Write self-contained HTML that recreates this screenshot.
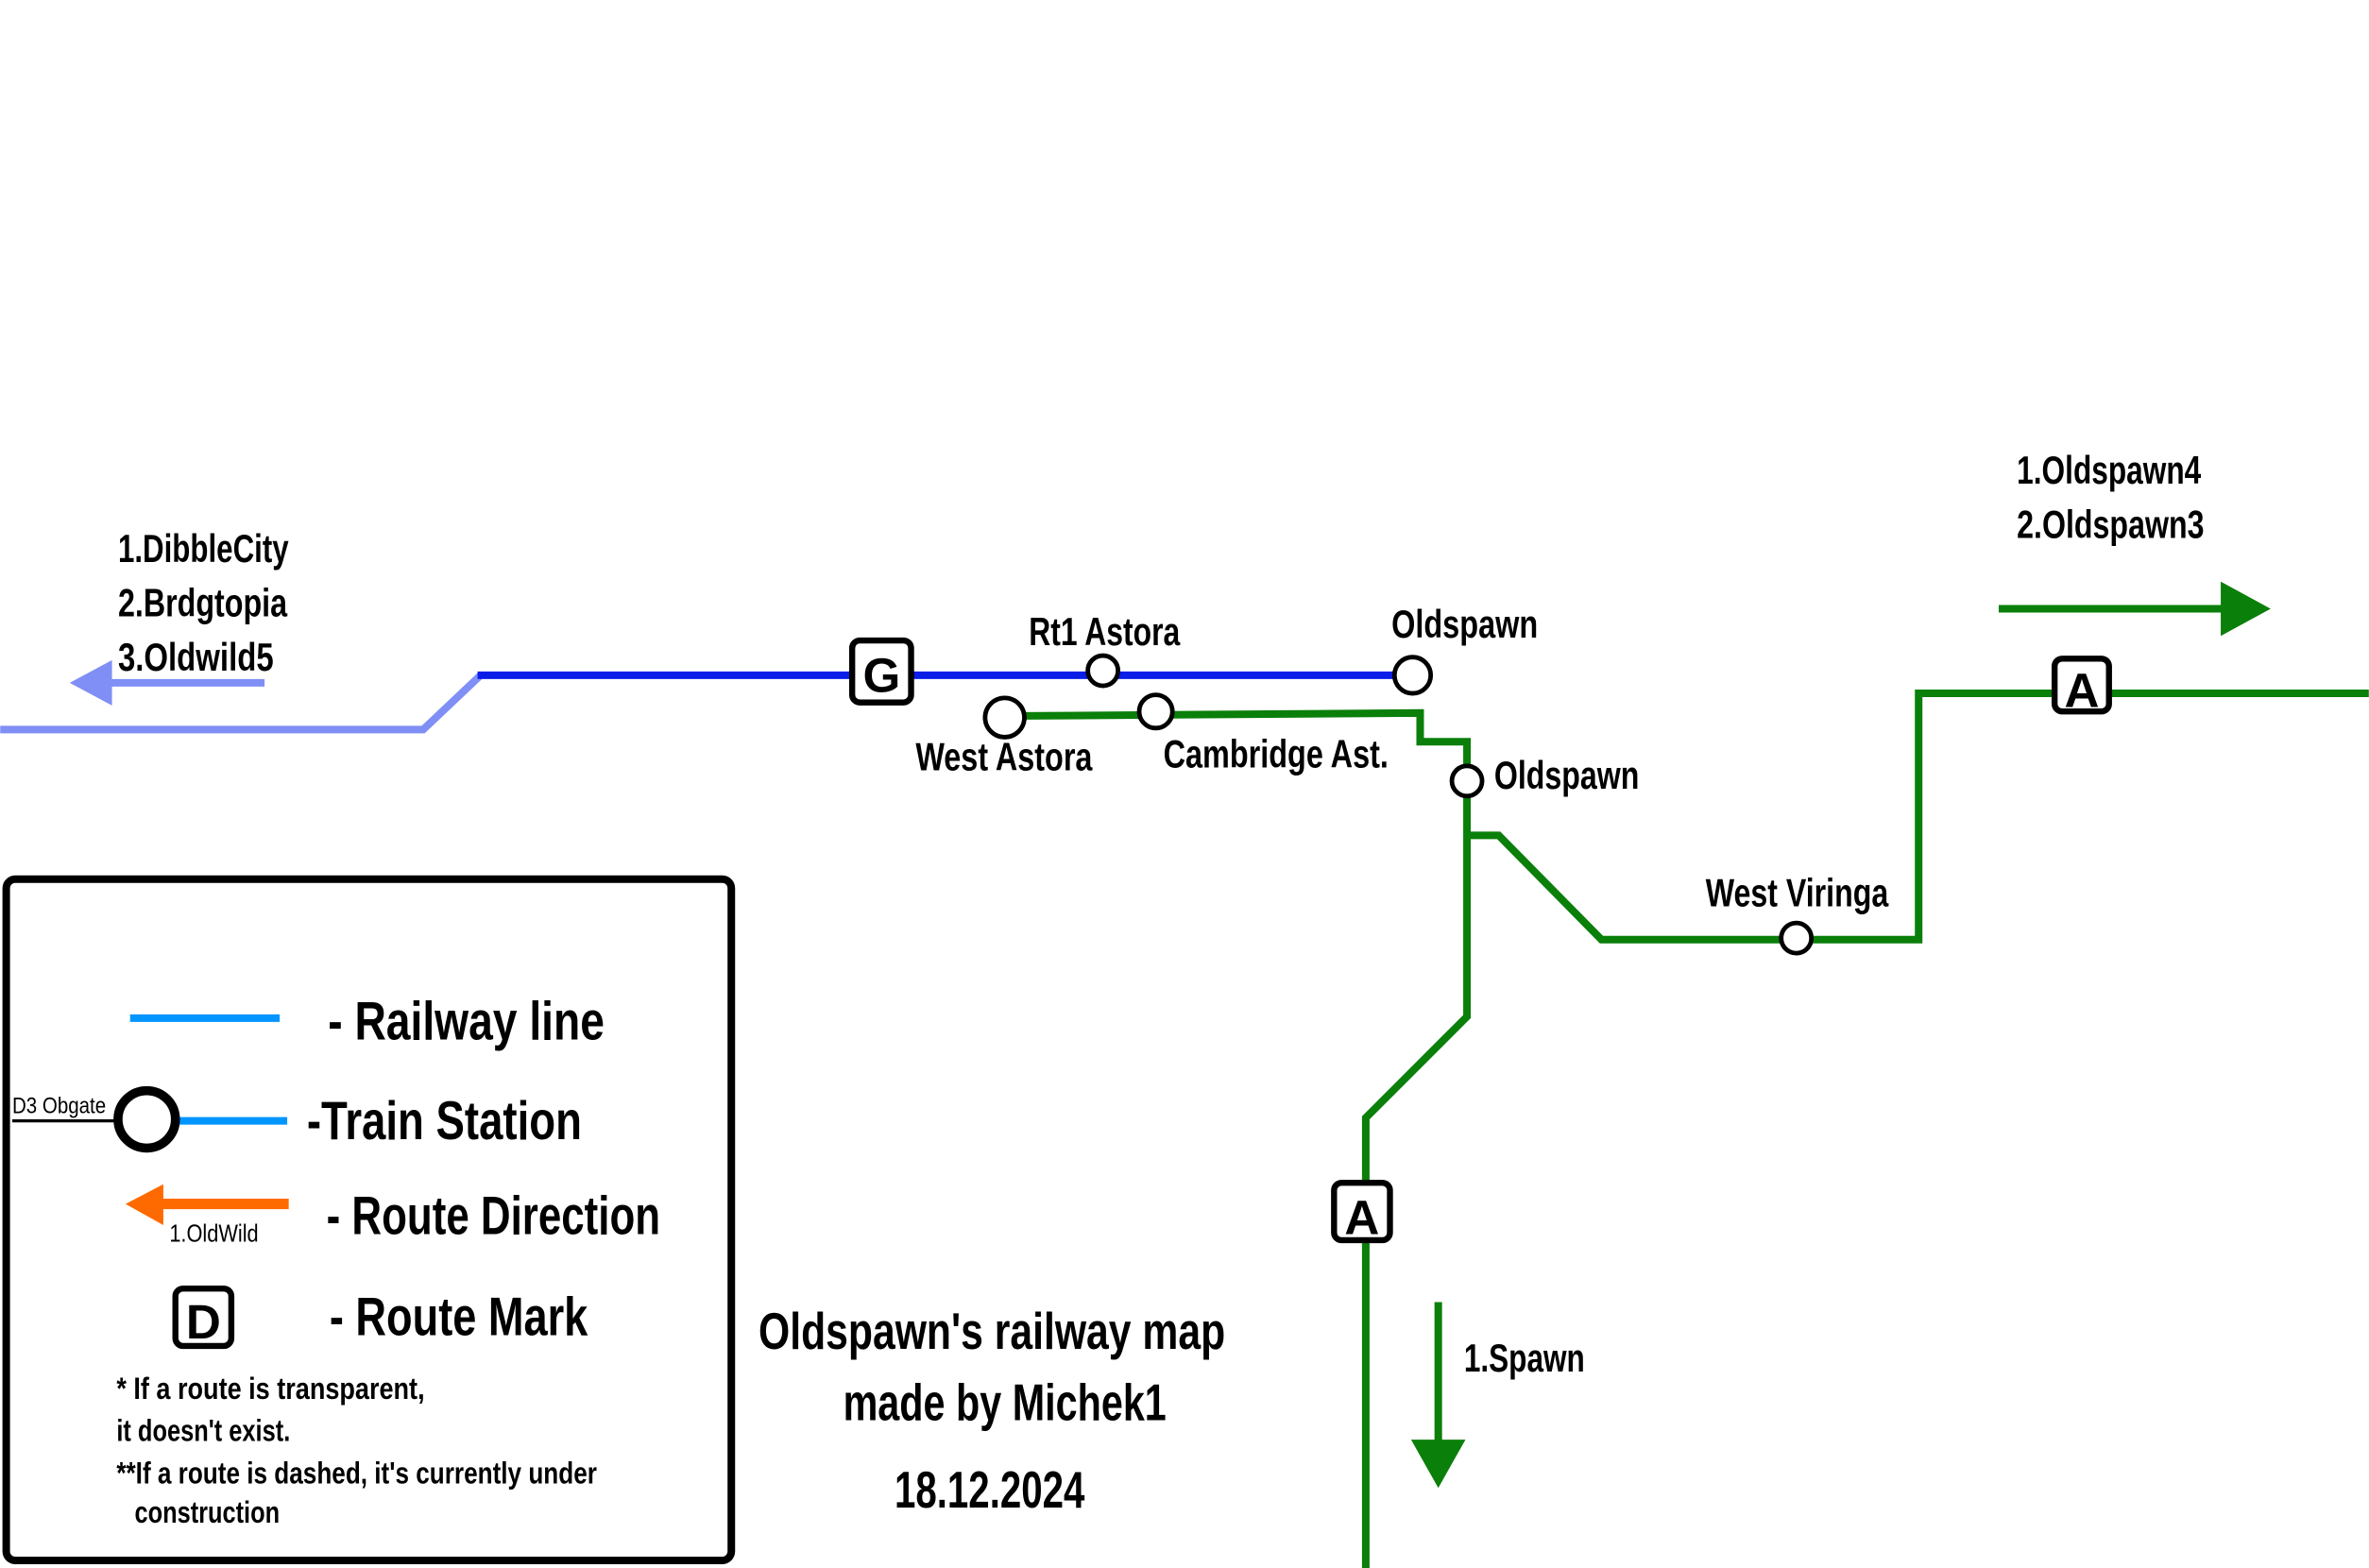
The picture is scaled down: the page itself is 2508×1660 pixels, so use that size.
<!DOCTYPE html>
<html><head><meta charset="utf-8"><style>
html,body{margin:0;padding:0;background:#fff;}
svg{display:block;}
text{font-family:"Liberation Sans Narrow","Liberation Sans",sans-serif;font-weight:bold;fill:#000;}
</style></head><body>
<svg width="2508" height="1660" viewBox="0 0 1568 1038" xmlns="http://www.w3.org/2000/svg">
<rect width="1568" height="1038" fill="#fff"/>
<!-- light blue transparent route -->
<polyline points="0,483 280,483 318,447" fill="none" stroke="#7f8ff5" stroke-width="5"/>
<line x1="175" y1="452" x2="70" y2="452" stroke="#7f8ff5" stroke-width="5"/>
<polygon points="46,452 74,437 74,467" fill="#7f8ff5"/>
<!-- blue line -->
<line x1="316" y1="447" x2="935" y2="447" stroke="#0a1ee8" stroke-width="5"/>
<!-- green lines -->
<polyline points="665,474 940,472 940,491 971,491 971,673 904,740 904,1038" fill="none" stroke="#0a7f0a" stroke-width="5"/>
<polyline points="971,553 992,553 1060,622 1270,622 1270,459 1568,459" fill="none" stroke="#0a7f0a" stroke-width="5"/>
<line x1="1323" y1="403" x2="1472" y2="403" stroke="#0a7f0a" stroke-width="5"/>
<polygon points="1503,403 1470,385 1470,421" fill="#0a7f0a"/>
<line x1="952" y1="862" x2="952" y2="958" stroke="#0a7f0a" stroke-width="5"/>
<polygon points="952,985 934,953 970,953" fill="#0a7f0a"/>
<!-- stations -->
<g fill="#fff" stroke="#000" stroke-width="3">
<circle cx="730" cy="444" r="10"/>
<circle cx="935" cy="447" r="12"/>
<circle cx="665" cy="475" r="13"/>
<circle cx="765" cy="471" r="11"/>
<circle cx="971" cy="517" r="10"/>
<circle cx="1189" cy="621" r="10"/>
</g>
<!-- route marks -->
<g fill="#fff" stroke="#000" stroke-width="4">
<rect x="564" y="424" width="39" height="41" rx="5"/>
<rect x="1360" y="436" width="36" height="35" rx="5"/>
<rect x="883" y="783" width="37" height="38" rx="5"/>
</g>
<text x="583.5" y="458" font-size="32" text-anchor="middle">G</text>
<text x="1378" y="468" font-size="32" text-anchor="middle">A</text>
<text x="901.5" y="817" font-size="32" text-anchor="middle">A</text>
<!-- labels -->
<g font-size="26">
<text x="78" y="372" textLength="113" lengthAdjust="spacingAndGlyphs">1.DibbleCity</text>
<text x="78" y="408" textLength="112" lengthAdjust="spacingAndGlyphs">2.Brdgtopia</text>
<text x="78" y="444" textLength="103" lengthAdjust="spacingAndGlyphs">3.Oldwild5</text>
<text x="681" y="427" textLength="100" lengthAdjust="spacingAndGlyphs">Rt1 Astora</text>
<text x="921" y="422" textLength="97" lengthAdjust="spacingAndGlyphs">Oldspawn</text>
<text x="606" y="510" textLength="117" lengthAdjust="spacingAndGlyphs">West Astora</text>
<text x="770" y="508" textLength="149" lengthAdjust="spacingAndGlyphs">Cambridge Ast.</text>
<text x="989" y="522" textLength="96" lengthAdjust="spacingAndGlyphs">Oldspawn</text>
<text x="1129" y="600" textLength="121" lengthAdjust="spacingAndGlyphs">West Viringa</text>
<text x="1335" y="320" textLength="122" lengthAdjust="spacingAndGlyphs">1.Oldspawn4</text>
<text x="1335" y="356" textLength="124" lengthAdjust="spacingAndGlyphs">2.Oldspawn3</text>
<text x="969" y="908" textLength="80" lengthAdjust="spacingAndGlyphs">1.Spawn</text>
</g>
<!-- title -->
<g font-size="34">
<text x="502" y="893" textLength="309" lengthAdjust="spacingAndGlyphs">Oldspawn's railway map</text>
<text x="558" y="940" textLength="214" lengthAdjust="spacingAndGlyphs">made by Michek1</text>
<text x="592" y="998" textLength="126" lengthAdjust="spacingAndGlyphs">18.12.2024</text>
</g>
<!-- legend -->
<rect x="4" y="582" width="480" height="451" rx="6" fill="#fff" stroke="#000" stroke-width="5"/>
<line x1="86" y1="674" x2="185" y2="674" stroke="#0095ff" stroke-width="5"/>
<line x1="8" y1="742" x2="78" y2="742" stroke="#000" stroke-width="2"/>
<line x1="116" y1="742" x2="190" y2="742" stroke="#0095ff" stroke-width="5"/>
<circle cx="97" cy="741" r="19" fill="#fff" stroke="#000" stroke-width="6"/>
<text x="8" y="737" font-size="15" style="font-weight:normal" textLength="62" lengthAdjust="spacingAndGlyphs">D3 Obgate</text>
<line x1="106" y1="797" x2="191" y2="797" stroke="#ff6a00" stroke-width="7"/>
<polygon points="83,797 108,784 108,811" fill="#ff6a00"/>
<text x="112" y="822" font-size="16" style="font-weight:normal" textLength="59" lengthAdjust="spacingAndGlyphs">1.OldWild</text>
<rect x="116" y="853" width="37" height="38" rx="5" fill="#fff" stroke="#000" stroke-width="4"/>
<text x="134.5" y="886" font-size="32" text-anchor="middle">D</text>
<g font-size="36">
<text x="217" y="688" textLength="183" lengthAdjust="spacingAndGlyphs">- Railway line</text>
<text x="203" y="754" textLength="182" lengthAdjust="spacingAndGlyphs">-Train Station</text>
<text x="216" y="817" textLength="221" lengthAdjust="spacingAndGlyphs">- Route Direction</text>
<text x="218" y="884" textLength="171" lengthAdjust="spacingAndGlyphs">- Route Mark</text>
</g>
<g font-size="20">
<text x="77" y="926" textLength="204" lengthAdjust="spacingAndGlyphs">* If a route is  transparent,</text>
<text x="77" y="954" textLength="115" lengthAdjust="spacingAndGlyphs">it doesn't exist.</text>
<text x="77" y="982" textLength="318" lengthAdjust="spacingAndGlyphs">**If a route is dashed, it's currently under</text>
<text x="89" y="1008" textLength="96" lengthAdjust="spacingAndGlyphs">construction</text>
</g>
</svg>
</body></html>
